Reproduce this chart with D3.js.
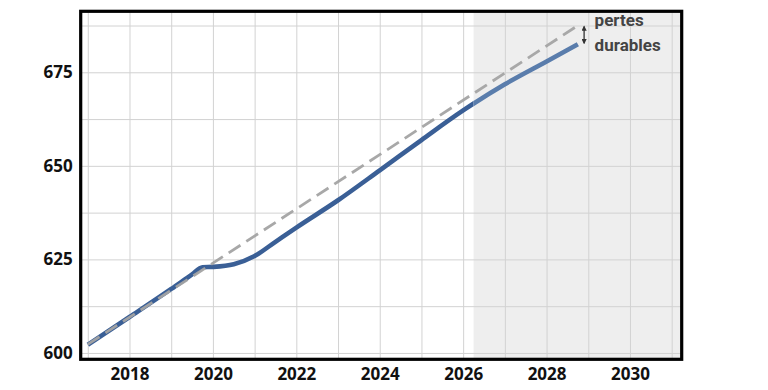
<!DOCTYPE html>
<html>
<head>
<meta charset="utf-8">
<script src="https://cdn.jsdelivr.net/npm/d3@7"></script>
<style>
  body { margin: 0; background: #fff; }
  svg { display: block; }
</style>
</head>
<body>
<svg id="chart"></svg>
<script>
// actual path (blue) and pre-crisis trend (dashed)
const years = [2017, 2018, 2019, 2019.5, 2019.75, 2020, 2020.5, 2021, 2021.5, 2022, 2023, 2024, 2025, 2026, 2027, 2028, 2028.75]
const actual = [602.2, 609.6, 617.1, 621.0, 622.9, 623.0, 623.7, 625.9, 629.7, 633.5, 640.8, 648.8, 656.9, 664.8, 671.8, 677.9, 682.5]
const trendYears = [2017, 2020, 2024, 2028.75]
const trend = [602.3, 624.0, 653.0, 687.5]
const xTicks = [2018, 2020, 2022, 2024, 2026, 2028, 2030]
const yTicks = [600, 625, 650, 675]
const projStart = 2026.25
const labels = ["pertes", "durables"]

const svgWidth = 768, svgHeight = 390
const margin = { top: 11.3, right: 86.3, bottom: 30.7, left: 80.7 }
const width = svgWidth - margin.left - margin.right
const height = svgHeight - margin.top - margin.bottom

const svg = d3.select('#chart')
  .attr('width', svgWidth)
  .attr('height', svgHeight)

const g = svg.append('g')
  .attr('transform', 'translate(' + margin.left + ',' + margin.top + ')')

const x = d3.scaleLinear().domain([2016.83, 2031.24]).range([0, width])
const y = d3.scaleLinear().domain([598.3, 691.3]).range([height, 0])

// shaded projection area
g.append('rect')
  .attr('x', x(projStart))
  .attr('y', 0)
  .attr('width', width - x(projStart))
  .attr('height', height)
  .attr('fill', '#eeeeee')

// grid
g.append('g')
  .call(d3.axisBottom(x).tickValues(d3.range(2017, 2032)).tickSize(height).tickFormat(''))
  .call(a => a.select('.domain').remove())
  .call(a => a.selectAll('line').attr('stroke', '#d2d2d2').attr('stroke-width', 1))

g.append('g')
  .call(d3.axisLeft(y).tickValues(d3.range(600, 690, 12.5)).tickSize(-width).tickFormat(''))
  .call(a => a.select('.domain').remove())
  .call(a => a.selectAll('line').attr('stroke', '#d2d2d2').attr('stroke-width', 1))

// clip paths for line colour change inside projection area
const defs = svg.append('defs')
defs.append('clipPath').attr('id', 'past')
  .append('rect').attr('x', -10).attr('y', -10).attr('width', x(projStart) + 10).attr('height', height + 20)
defs.append('clipPath').attr('id', 'future')
  .append('rect').attr('x', x(projStart)).attr('y', -10).attr('width', width).attr('height', height + 20)

const line = d3.line()
  .x(d => x(d[0]))
  .y(d => y(d[1]))
  .curve(d3.curveMonotoneX)

const actualPts = years.map((yr, i) => [yr, actual[i]])
const trendPts = trendYears.map((yr, i) => [yr, trend[i]])

g.append('path')
  .datum(actualPts)
  .attr('clip-path', 'url(#past)')
  .attr('fill', 'none')
  .attr('stroke', '#3a5f96')
  .attr('stroke-width', 4.6)
  .attr('d', line)

g.append('path')
  .datum(actualPts)
  .attr('clip-path', 'url(#future)')
  .attr('fill', 'none')
  .attr('stroke', '#5a7dac')
  .attr('stroke-width', 4.6)
  .attr('d', line)

g.append('path')
  .datum(trendPts)
  .attr('fill', 'none')
  .attr('stroke', '#a3a3a3')
  .attr('stroke-opacity', 0.95)
  .attr('stroke-width', 2.8)
  .attr('stroke-dasharray', '14,7')
  .attr('d', d3.line().x(d => x(d[0])).y(d => y(d[1])))

// annotation arrow
const ax = x(2028.9)
const ay0 = y(trend[trend.length - 1]) + 1
const ay1 = y(actual[actual.length - 1]) - 1
defs.append('marker').attr('id', 'head')
  .attr('viewBox', '0 0 10 10').attr('refX', 8).attr('refY', 5)
  .attr('markerWidth', 4).attr('markerHeight', 4).attr('orient', 'auto-start-reverse')
  .append('path').attr('d', 'M0,0L10,5L0,10z').attr('fill', '#333')
g.append('line')
  .attr('x1', ax).attr('x2', ax)
  .attr('y1', ay0).attr('y2', ay1)
  .attr('stroke', '#333').attr('stroke-width', 1.3)
  .attr('marker-start', 'url(#head)')
  .attr('marker-end', 'url(#head)')

g.selectAll('.lbl')
  .data(labels)
  .enter().append('text')
  .attr('x', ax + 10.5)
  .attr('y', (d, i) => 15 + i * 24.5)
  .attr('font-family', 'Roboto, sans-serif')
  .attr('font-weight', 'bold')
  .attr('font-size', 17)
  .attr('fill', '#444')
  .text(d => d)

// frame
g.append('rect')
  .attr('width', width).attr('height', height)
  .attr('fill', 'none')
  .attr('stroke', '#000')
  .attr('stroke-width', 3.2)

// axes labels
const xAxis = g.append('g')
  .attr('transform', 'translate(0,' + height + ')')
  .call(d3.axisBottom(x).tickValues(xTicks).tickFormat(d3.format('d')).tickSize(0).tickPadding(9))
xAxis.select('.domain').remove()

const yAxis = g.append('g')
  .call(d3.axisLeft(y).tickValues(yTicks).tickSize(0).tickPadding(8))
yAxis.select('.domain').remove()

svg.selectAll('.tick text')
  .attr('font-family', '"Open Sans", sans-serif')
  .attr('font-weight', 'bold')
  .attr('font-size', 17)
  .attr('fill', '#111')
</script>
</body>
</html>
